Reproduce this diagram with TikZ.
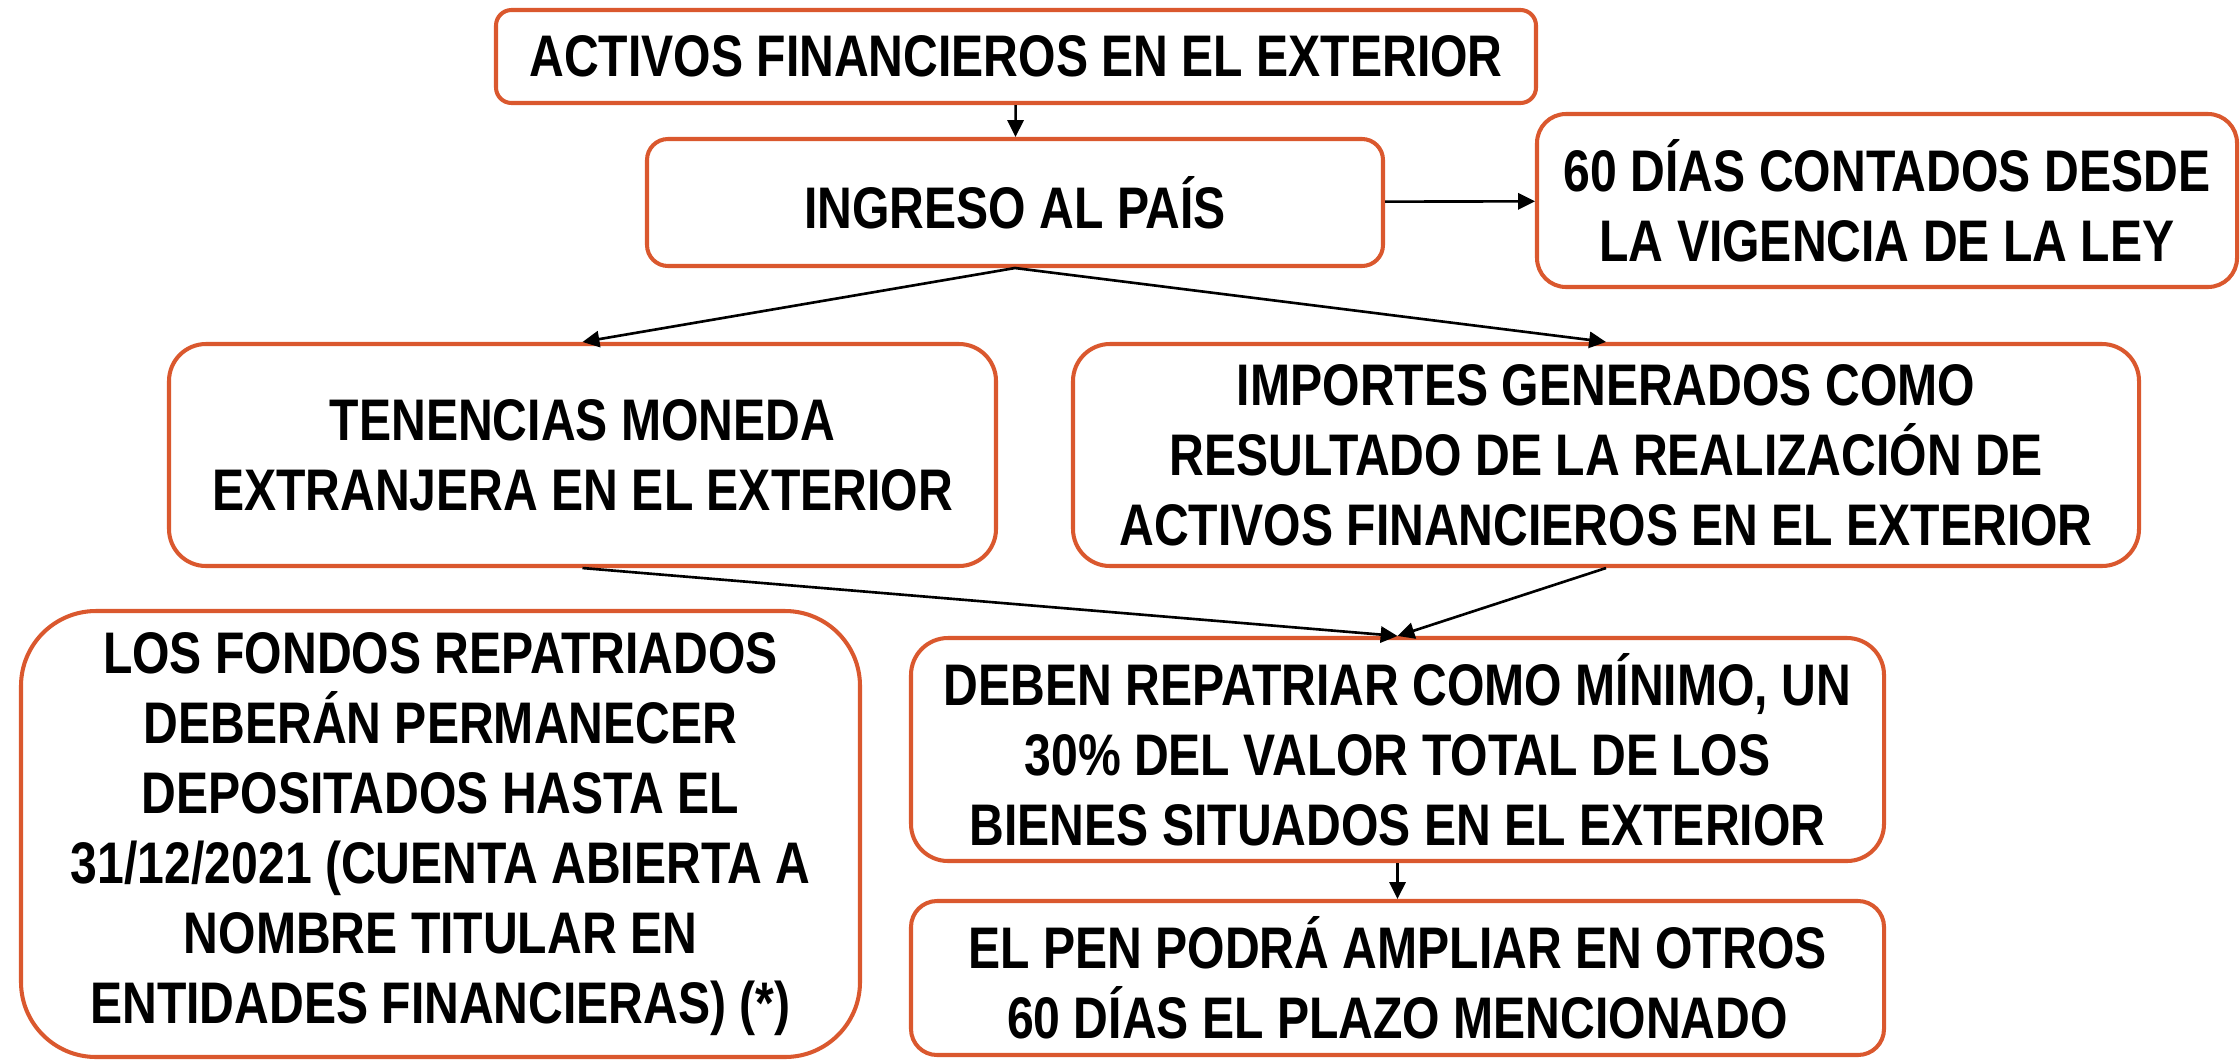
\documentclass[tikz,border=0pt]{standalone}
\usepackage{fontspec}
\setmainfont{Liberation Sans}[FakeStretch=0.82]
\usepackage{tikz}
\usetikzlibrary{
  arrows.meta,  % Tips "Triangle"
  positioning
}
\definecolor{boxline}{RGB}{218,88,46}
\tikzset{
  font=\fontsize{16.7}{19.9}\selectfont\bfseries,
  >={Triangle[length=4.8pt,width=4.6pt]},
  link/.style={->,line width=0.75pt},
  my box/.style={
    draw=boxline,
    line width=1.15pt,
    fill=white,
    rectangle,
    align=center,
    inner sep=0pt
  }
}

\begin{document}
\begin{tikzpicture}
\useasboundingbox (0,0) rectangle (22.4,-10.59);
\node[my box,minimum width=10.4cm,minimum height=0.93cm,rounded corners=0.155cm] (activos) at (10.16,-0.565) {ACTIVOS FINANCIEROS EN EL EXTERIOR};
\node[my box,minimum width=7.36cm,minimum height=1.27cm,rounded corners=0.21cm] (ingreso) at (10.15,-2.025) {INGRESO AL PAÍS};
\node[my box,minimum width=7.0cm,minimum height=1.73cm,rounded corners=0.29cm] (plazo) at (18.87,-2.005) {60 DÍAS CONTADOS DESDE\\LA VIGENCIA DE LA LEY};
\node[my box,minimum width=8.27cm,minimum height=2.22cm,rounded corners=0.37cm] (tenencias) at (5.825,-4.55) {TENENCIAS MONEDA\\EXTRANJERA EN EL EXTERIOR};
\node[my box,minimum width=10.66cm,minimum height=2.22cm,rounded corners=0.37cm] (importes) at (16.06,-4.55) {IMPORTES GENERADOS COMO\\RESULTADO DE LA REALIZACIÓN DE\\ACTIVOS FINANCIEROS EN EL EXTERIOR};
\node[my box,minimum width=8.39cm,minimum height=4.46cm,rounded corners=0.75cm] (fondos) at (4.405,-8.34) {LOS FONDOS REPATRIADOS\\DEBERÁN PERMANECER\\DEPOSITADOS HASTA EL\\31/12/2021 (CUENTA ABIERTA A\\NOMBRE TITULAR EN\\ENTIDADES FINANCIERAS) (*)};
\node[my box,minimum width=9.73cm,minimum height=2.23cm,rounded corners=0.37cm] (deben) at (13.975,-7.495) {DEBEN REPATRIAR COMO MÍNIMO, UN\\30\% DEL VALOR TOTAL DE LOS\\BIENES SITUADOS EN EL EXTERIOR};
\node[my box,minimum width=9.73cm,minimum height=1.54cm,rounded corners=0.26cm] (ampliar) at (13.975,-9.78) {EL PEN PODRÁ AMPLIAR EN OTROS\\60 DÍAS EL PLAZO MENCIONADO};
\path[link] (activos) edge (ingreso)
            (ingreso) edge (plazo)
            (ingreso.south) edge (tenencias.north)
            (ingreso.south) edge (importes.north)
            (tenencias.south) edge (deben.north)
            (importes.south) edge (deben.north)
            (deben) edge (ampliar);
\end{tikzpicture}
\end{document}
